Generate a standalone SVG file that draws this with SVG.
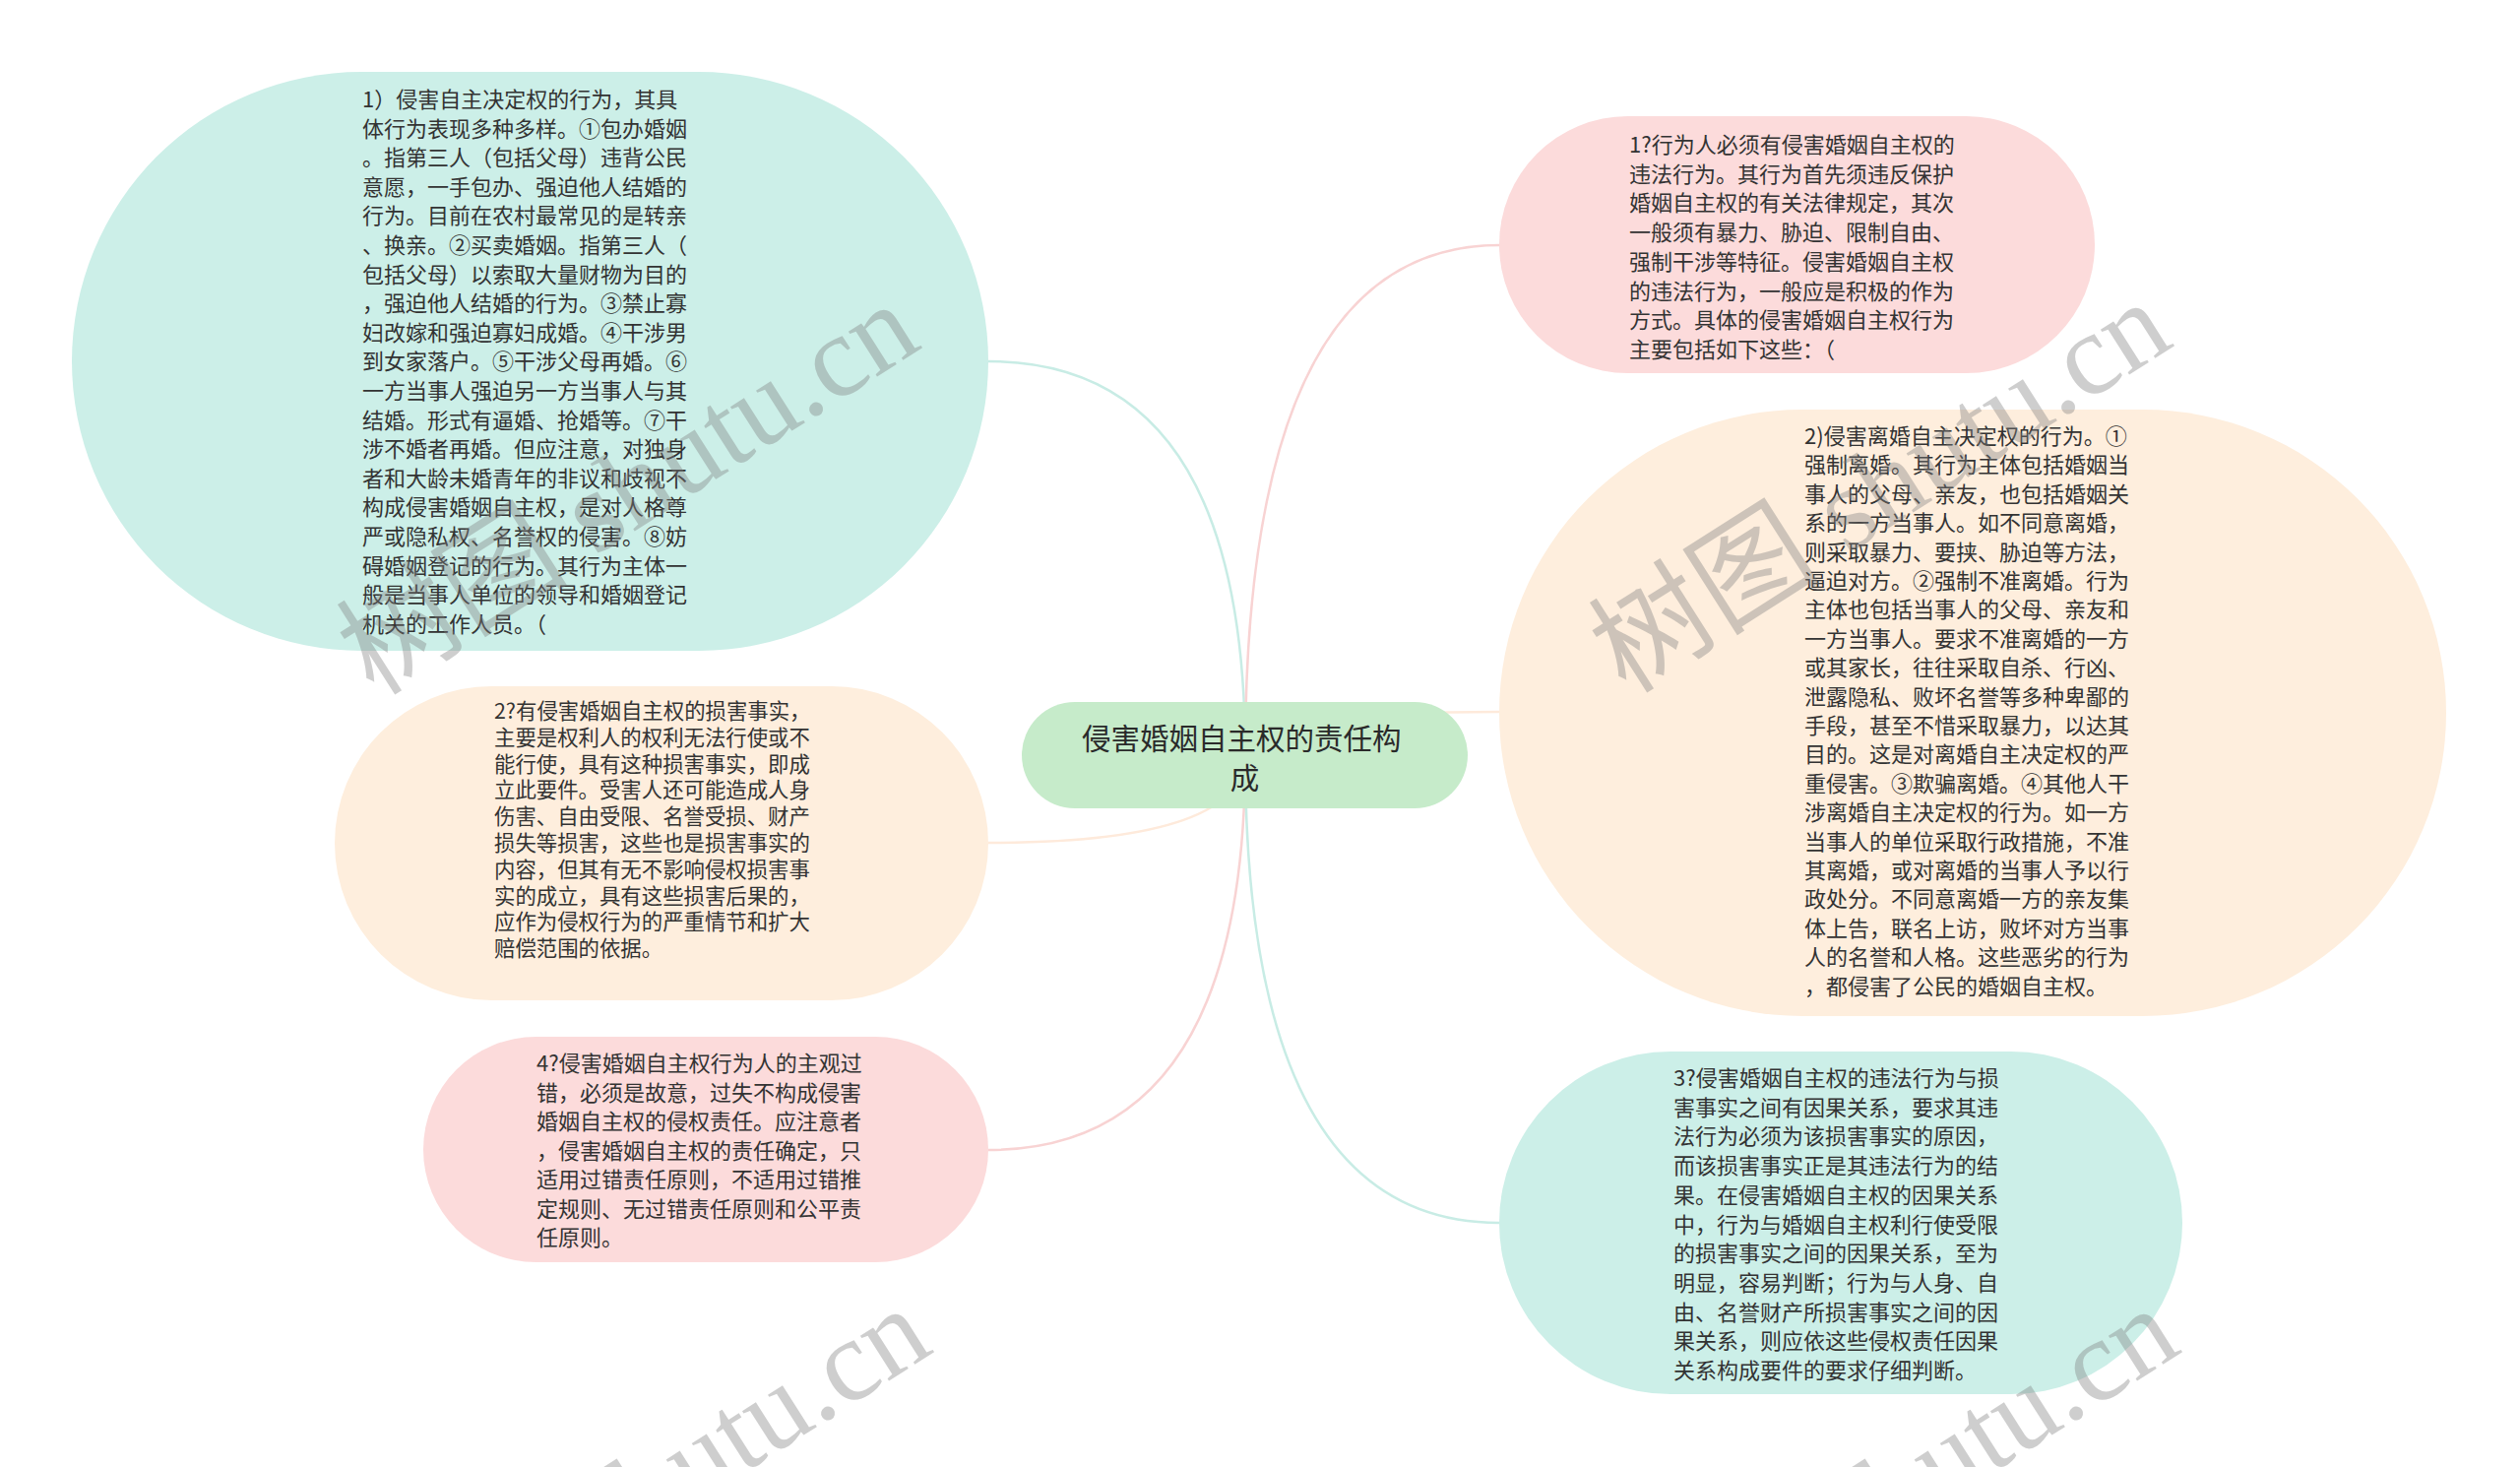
<svg xmlns="http://www.w3.org/2000/svg" width="2560" height="1490" viewBox="0 0 2560 1490">
<style>
.t{font-family:"Noto Sans CJK SC","Noto Sans",sans-serif;font-size:22px;fill:#333333}
.t2{font-family:"Noto Sans CJK SC","Noto Sans",sans-serif;font-size:21.4px;fill:#333333}
.tc{font-family:"Noto Sans CJK SC","Noto Sans",sans-serif;font-size:29.5px;fill:#2a2a2a;text-anchor:middle}
.teal{fill:#ccefe8}
.pink{fill:#fcdbdb}
.orange{fill:#feeedd}
.green{fill:#c6ebca}
.c{fill:none;stroke-width:2.5}
.wm{font-family:"Liberation Serif","Noto Sans CJK SC",serif;font-size:118px;fill:#808080;opacity:0.38}
</style>
<rect width="2560" height="1490" fill="#ffffff"/>
<g id="connectors">
<path class="c" stroke="#c8ece5" d="M1265 767 Q1265 367 1004 367"/>
<path class="c" stroke="#feeadb" d="M1265 767 Q1265 856 1004 856"/>
<path class="c" stroke="#f8d3d3" d="M1265 767 Q1265 1168 1004 1168"/>
<path class="c" stroke="#f8d3d3" d="M1265 767 Q1265 249 1523 249"/>
<path class="c" stroke="#feeadb" d="M1265 767 Q1265 723 1523 723"/>
<path class="c" stroke="#c8ece5" d="M1265 767 Q1265 1242 1523 1242"/>
</g>
<g id="node1">
<rect class="teal" x="73" y="73" width="931" height="588" rx="294"/>
<text class="t">
<tspan x="368" y="109">1）侵害自主决定权的行为，其具</tspan>
<tspan x="368" y="138.6">体行为表现多种多样。①包办婚姻</tspan>
<tspan x="368" y="168.2">。指第三人（包括父母）违背公民</tspan>
<tspan x="368" y="197.8">意愿，一手包办、强迫他人结婚的</tspan>
<tspan x="368" y="227.4">行为。目前在农村最常见的是转亲</tspan>
<tspan x="368" y="257">、换亲。②买卖婚姻。指第三人（</tspan>
<tspan x="368" y="286.6">包括父母）以索取大量财物为目的</tspan>
<tspan x="368" y="316.2">，强迫他人结婚的行为。③禁止寡</tspan>
<tspan x="368" y="345.8">妇改嫁和强迫寡妇成婚。④干涉男</tspan>
<tspan x="368" y="375.4">到女家落户。⑤干涉父母再婚。⑥</tspan>
<tspan x="368" y="405">一方当事人强迫另一方当事人与其</tspan>
<tspan x="368" y="434.6">结婚。形式有逼婚、抢婚等。⑦干</tspan>
<tspan x="368" y="464.2">涉不婚者再婚。但应注意，对独身</tspan>
<tspan x="368" y="493.8">者和大龄未婚青年的非议和歧视不</tspan>
<tspan x="368" y="523.4">构成侵害婚姻自主权，是对人格尊</tspan>
<tspan x="368" y="553">严或隐私权、名誉权的侵害。⑧妨</tspan>
<tspan x="368" y="582.6">碍婚姻登记的行为。其行为主体一</tspan>
<tspan x="368" y="612.2">般是当事人单位的领导和婚姻登记</tspan>
<tspan x="368" y="641.8">机关的工作人员。（</tspan>
</text>
</g>
<g id="node2">
<rect class="orange" x="340" y="697" width="664" height="319" rx="159.5"/>
<text class="t2">
<tspan x="502" y="730">2?有侵害婚姻自主权的损害事实，</tspan>
<tspan x="502" y="756.8">主要是权利人的权利无法行使或不</tspan>
<tspan x="502" y="783.6">能行使，具有这种损害事实，即成</tspan>
<tspan x="502" y="810.4">立此要件。受害人还可能造成人身</tspan>
<tspan x="502" y="837.2">伤害、自由受限、名誉受损、财产</tspan>
<tspan x="502" y="864">损失等损害，这些也是损害事实的</tspan>
<tspan x="502" y="890.8">内容，但其有无不影响侵权损害事</tspan>
<tspan x="502" y="917.6">实的成立，具有这些损害后果的，</tspan>
<tspan x="502" y="944.4">应作为侵权行为的严重情节和扩大</tspan>
<tspan x="502" y="971.2">赔偿范围的依据。</tspan>
</text>
</g>
<g id="node3">
<rect class="pink" x="430" y="1053" width="574" height="229" rx="114.5"/>
<text class="t">
<tspan x="545" y="1088">4?侵害婚姻自主权行为人的主观过</tspan>
<tspan x="545" y="1117.5">错，必须是故意，过失不构成侵害</tspan>
<tspan x="545" y="1147">婚姻自主权的侵权责任。应注意者</tspan>
<tspan x="545" y="1176.5">，侵害婚姻自主权的责任确定，只</tspan>
<tspan x="545" y="1206">适用过错责任原则，不适用过错推</tspan>
<tspan x="545" y="1235.5">定规则、无过错责任原则和公平责</tspan>
<tspan x="545" y="1265">任原则。</tspan>
</text>
</g>
<g id="root">
<rect class="green" x="1038" y="713" width="453" height="108" rx="54"/>
<text class="tc">
<tspan x="1264.5" y="761">侵害婚姻自主权的责任构</tspan>
<tspan x="1264.5" y="801">成</tspan>
</text>
</g>
<g id="node5">
<rect class="pink" x="1523" y="118" width="605" height="261" rx="130.5"/>
<text class="t">
<tspan x="1655" y="155">1?行为人必须有侵害婚姻自主权的</tspan>
<tspan x="1655" y="184.7">违法行为。其行为首先须违反保护</tspan>
<tspan x="1655" y="214.4">婚姻自主权的有关法律规定，其次</tspan>
<tspan x="1655" y="244.1">一般须有暴力、胁迫、限制自由、</tspan>
<tspan x="1655" y="273.8">强制干涉等特征。侵害婚姻自主权</tspan>
<tspan x="1655" y="303.5">的违法行为，一般应是积极的作为</tspan>
<tspan x="1655" y="333.2">方式。具体的侵害婚姻自主权行为</tspan>
<tspan x="1655" y="362.9">主要包括如下这些：（</tspan>
</text>
</g>
<g id="node6">
<rect class="orange" x="1523" y="416" width="962" height="616" rx="308"/>
<text class="t">
<tspan x="1833" y="451">2)侵害离婚自主决定权的行为。①</tspan>
<tspan x="1833" y="480.4">强制离婚。其行为主体包括婚姻当</tspan>
<tspan x="1833" y="509.8">事人的父母、亲友，也包括婚姻关</tspan>
<tspan x="1833" y="539.2">系的一方当事人。如不同意离婚，</tspan>
<tspan x="1833" y="568.6">则采取暴力、要挟、胁迫等方法，</tspan>
<tspan x="1833" y="598">逼迫对方。②强制不准离婚。行为</tspan>
<tspan x="1833" y="627.4">主体也包括当事人的父母、亲友和</tspan>
<tspan x="1833" y="656.8">一方当事人。要求不准离婚的一方</tspan>
<tspan x="1833" y="686.2">或其家长，往往采取自杀、行凶、</tspan>
<tspan x="1833" y="715.6">泄露隐私、败坏名誉等多种卑鄙的</tspan>
<tspan x="1833" y="745">手段，甚至不惜采取暴力，以达其</tspan>
<tspan x="1833" y="774.4">目的。这是对离婚自主决定权的严</tspan>
<tspan x="1833" y="803.8">重侵害。③欺骗离婚。④其他人干</tspan>
<tspan x="1833" y="833.2">涉离婚自主决定权的行为。如一方</tspan>
<tspan x="1833" y="862.6">当事人的单位采取行政措施，不准</tspan>
<tspan x="1833" y="892">其离婚，或对离婚的当事人予以行</tspan>
<tspan x="1833" y="921.4">政处分。不同意离婚一方的亲友集</tspan>
<tspan x="1833" y="950.8">体上告，联名上访，败坏对方当事</tspan>
<tspan x="1833" y="980.2">人的名誉和人格。这些恶劣的行为</tspan>
<tspan x="1833" y="1009.6">，都侵害了公民的婚姻自主权。</tspan>
</text>
</g>
<g id="node7">
<rect class="teal" x="1523" y="1068" width="694" height="348" rx="174"/>
<text class="t">
<tspan x="1700" y="1103">3?侵害婚姻自主权的违法行为与损</tspan>
<tspan x="1700" y="1132.7">害事实之间有因果关系，要求其违</tspan>
<tspan x="1700" y="1162.4">法行为必须为该损害事实的原因，</tspan>
<tspan x="1700" y="1192.1">而该损害事实正是其违法行为的结</tspan>
<tspan x="1700" y="1221.8">果。在侵害婚姻自主权的因果关系</tspan>
<tspan x="1700" y="1251.5">中，行为与婚姻自主权利行使受限</tspan>
<tspan x="1700" y="1281.2">的损害事实之间的因果关系，至为</tspan>
<tspan x="1700" y="1310.9">明显，容易判断；行为与人身、自</tspan>
<tspan x="1700" y="1340.6">由、名誉财产所损害事实之间的因</tspan>
<tspan x="1700" y="1370.3">果关系，则应依这些侵权责任因果</tspan>
<tspan x="1700" y="1400">关系构成要件的要求仔细判断。</tspan>
</text>
</g>
<g id="watermarks">
<text class="wm" transform="translate(380 708) rotate(-32.5)">树图 shutu.cn</text>
<text class="wm" transform="translate(1652 706) rotate(-32.5)">树图 shutu.cn</text>
<text class="wm" transform="translate(392 1728) rotate(-32.5)">树图 shutu.cn</text>
<text class="wm" transform="translate(1660 1728) rotate(-32.5)">树图 shutu.cn</text>
</g>
</svg>
